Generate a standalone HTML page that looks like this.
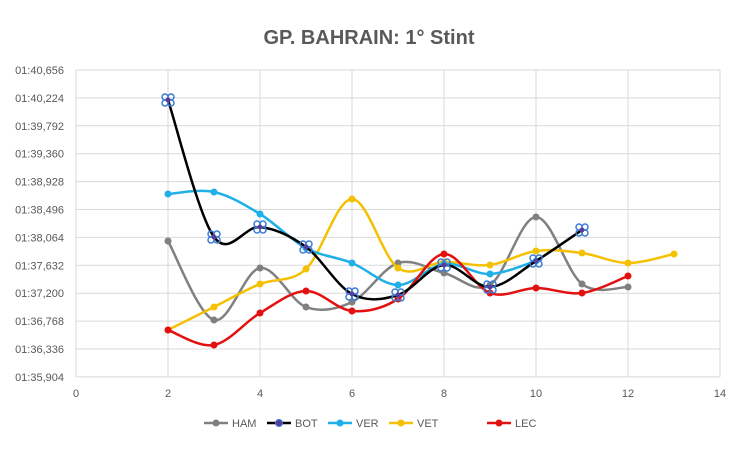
<!DOCTYPE html>
<html><head><meta charset="utf-8"><style>
body{margin:0;background:#fff;}
svg{font-family:"Liberation Sans",sans-serif;}
</style></head><body>
<svg id="s" width="738" height="462" xmlns="http://www.w3.org/2000/svg">
<rect width="738" height="462" fill="#fff"/>
<text x="369" y="44" text-anchor="middle" font-size="20" font-weight="bold" fill="#595959">GP. BAHRAIN: 1° Stint</text>
<g id="grid" stroke="#d9d9d9" stroke-width="1"></g>
<g id="labels" font-size="11" fill="#595959"></g>
<g id="series"></g>
<g font-size="11" fill="#595959">
<line x1="204" y1="423" x2="228" y2="423" stroke="#808080" stroke-width="2.5"/><circle cx="216" cy="423" r="3.5" fill="#808080"/><text x="232" y="427">HAM</text>
<line x1="267" y1="423" x2="291" y2="423" stroke="#000" stroke-width="2.5"/><circle cx="279" cy="423" r="3.5" fill="#5b3c9c" stroke="#3a7bd5"/><text x="295" y="427">BOT</text>
<line x1="328" y1="423" x2="352" y2="423" stroke="#1fb0e8" stroke-width="2.5"/><circle cx="340" cy="423" r="3.5" fill="#1fb0e8"/><text x="356" y="427">VER</text>
<line x1="389" y1="423" x2="413" y2="423" stroke="#f5c000" stroke-width="2.5"/><circle cx="401" cy="423" r="3.5" fill="#f5c000"/><text x="417" y="427">VET</text>
<line x1="487" y1="423" x2="511" y2="423" stroke="#e41010" stroke-width="2.5"/><circle cx="499" cy="423" r="3.5" fill="#e41010"/><text x="515" y="427">LEC</text>
</g>
</svg>
<script>
var NS="http://www.w3.org/2000/svg";
function el(t,a,p){var e=document.createElementNS(NS,t);for(var k in a)e.setAttribute(k,a[k]);p.appendChild(e);return e;}
var g=document.getElementById('grid'),L=document.getElementById('labels'),S=document.getElementById('series');
var X=function(v){return 76+46*v;};
var yl=["01:40,656","01:40,224","01:39,792","01:39,360","01:38,928","01:38,496","01:38,064","01:37,632","01:37,200","01:36,768","01:36,336","01:35,904"];
for(var i=0;i<12;i++){var y=70+i*27.9;el('line',{x1:76,x2:720,y1:y,y2:y},g);var t=el('text',{x:64,y:y+4,'text-anchor':'end'},L);t.textContent=yl[i];}
for(var v=0;v<=14;v+=2){el('line',{x1:X(v),x2:X(v),y1:70,y2:377},g);var t=el('text',{x:X(v),y:397,'text-anchor':'middle'},L);t.textContent=v;}
function path(pts){var d="M"+pts[0][0]+","+pts[0][1];for(var i=0;i<pts.length-1;i++){var p0=pts[i-1]||pts[i],p1=pts[i],p2=pts[i+1],p3=pts[i+2]||p2;var c1=[p1[0]+(p2[0]-p0[0])/6,p1[1]+(p2[1]-p0[1])/6],c2=[p2[0]-(p3[0]-p1[0])/6,p2[1]-(p3[1]-p1[1])/6];d+=" C"+c1+" "+c2+" "+p2;}return d;}
function series(ys,start,col,mk){var pts=ys.map(function(y,i){return [X(start+i),y];});el('path',{d:path(pts),fill:'none',stroke:col,'stroke-width':2.5},S);
pts.forEach(function(p){if(mk){var gg=el('g',{},S);[[-3,-3],[3,-3],[-3,3],[3,3]].forEach(function(o){el('circle',{cx:p[0]+o[0],cy:p[1]+o[1],r:3,fill:'none',stroke:'#3a7bd5','stroke-width':1.5},gg);});el('circle',{cx:p[0],cy:p[1],r:2.5,fill:'#5b3c9c'},gg);}else el('circle',{cx:p[0],cy:p[1],r:3.5,fill:col},S);});}
series([241,320,268,307,302,263,273,285,217,284,287],2,'#808080');
series([330,307,284,269,199,268,262,265,251,253,263,254],2,'#f5c000');
series([194,192,214,248,263,285,264,274,261],2,'#1fb0e8');
series([330,345,313,291,311,299,254,293,288,293,276],2,'#e41010');
series([100,237,227,247,294,295,265,287,261,230],2,'#000',true);
</script>
</body></html>
